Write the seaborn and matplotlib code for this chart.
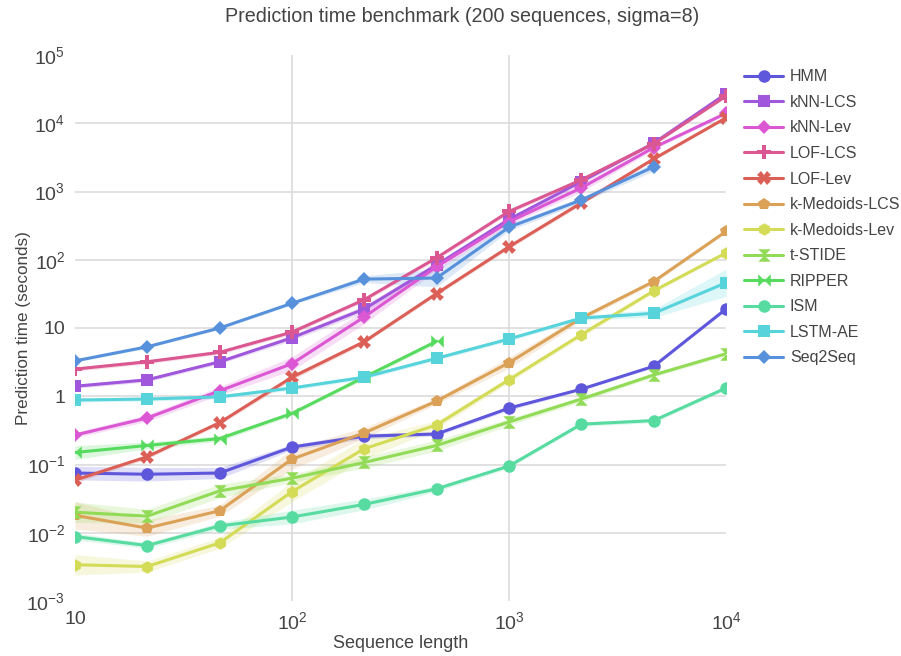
import matplotlib
matplotlib.use("Agg")
import matplotlib.pyplot as plt
import numpy as np
import pandas as pd
import seaborn as sns

# ------------------------------------------------------------------ #
# Data                                 #
# ------------------------------------------------------------------ #
SEQ_LEN = [10, 21.5, 46.4, 100, 215, 464, 1000, 2154, 4642, 10000]
nan = np.nan

HMM         = [0.075, 0.072, 0.075, 0.18, 0.26, 0.28, 0.67, 1.27, 2.75, 19]
KNN_LCS     = [1.4, 1.74, 3.2, 7.2, 19, 84, 390, 1400, 5100, 27000]
KNN_LEV     = [0.27, 0.48, 1.2, 3.0, 14.5, 79, 360, 1130, 4400, 14000]
LOF_LCS     = [2.5, 3.2, 4.4, 8.7, 26, 107, 510, 1480, 5000, 25000]
LOF_LEV     = [0.059, 0.13, 0.41, 1.9, 6.3, 32, 155, 680, 3000, 12000]
KMED_LCS    = [0.018, 0.0117, 0.021, 0.12, 0.29, 0.85, 3.1, 14, 48, 260]
KMED_LEV    = [0.0034, 0.0032, 0.0071, 0.040, 0.17, 0.38, 1.75, 8.0, 35, 126]
T_STIDE     = [0.020, 0.0175, 0.041, 0.063, 0.107, 0.19, 0.42, 0.91, 2.05, 4.2]
RIPPER      = [0.15, 0.19, 0.24, 0.56, 1.9, 6.4, nan, nan, nan, nan]
ISM         = [0.0088, 0.0065, 0.0126, 0.017, 0.026, 0.044, 0.095, 0.39, 0.44, 1.32]
LSTM_AE     = [0.88, 0.91, 0.98, 1.32, 1.9, 3.6, 6.9, 14, 16.4, 46]
SEQ2SEQ     = [3.3, 5.3, 10, 23, 52, 54, 300, 750, 2300, nan]

# band half-widths in decades (log10 units)
HMM_BAND      = [0.10, 0.10, 0.08, 0.04, 0.04, 0.03, 0.03, 0.02, 0.02, 0.02]
KNN_LCS_BAND  = [0.03, 0.03, 0.03, 0.04, 0.05, 0.04, 0.03, 0.03, 0.02, 0.02]
KNN_LEV_BAND  = [0.04, 0.05, 0.06, 0.10, 0.10, 0.05, 0.04, 0.06, 0.03, 0.02]
LOF_LCS_BAND  = [0.03, 0.03, 0.03, 0.03, 0.03, 0.03, 0.03, 0.03, 0.02, 0.02]
LOF_LEV_BAND  = [0.04, 0.03, 0.03, 0.04, 0.03, 0.03, 0.03, 0.03, 0.02, 0.02]
KMED_LCS_BAND = [0.20, 0.12, 0.08, 0.15, 0.08, 0.04, 0.08, 0.04, 0.03, 0.02]
KMED_LEV_BAND = [0.15, 0.08, 0.08, 0.15, 0.15, 0.06, 0.04, 0.04, 0.03, 0.02]
T_STIDE_BAND  = [0.15, 0.10, 0.10, 0.06, 0.08, 0.08, 0.05, 0.04, 0.03, 0.03]
RIPPER_BAND   = [0.10, 0.05, 0.04, 0.03, 0.03, 0.03, nan, nan, nan, nan]
ISM_BAND      = [0.05, 0.04, 0.05, 0.10, 0.08, 0.04, 0.03, 0.03, 0.03, 0.03]
LSTM_AE_BAND  = [0.03, 0.03, 0.03, 0.03, 0.03, 0.03, 0.03, 0.03, 0.06, 0.20]
SEQ2SEQ_BAND  = [0.02, 0.02, 0.02, 0.02, 0.05, 0.13, 0.05, 0.04, 0.06, nan]

LABELS = ["HMM", "kNN-LCS", "kNN-Lev", "LOF-LCS", "LOF-Lev", "k-Medoids-LCS",
          "k-Medoids-Lev", "t-STIDE", "RIPPER", "ISM", "LSTM-AE", "Seq2Seq"]

# ------------------------------------------------------------------ #
# Style                                                                #
# ------------------------------------------------------------------ #
sns.set_theme(style="white")
plt.rcParams["font.family"] = ["Liberation Sans", "DejaVu Sans"]
plt.rcParams["mathtext.fontset"] = "custom"
plt.rcParams["mathtext.rm"] = "Liberation Sans"
plt.rcParams["mathtext.it"] = "Liberation Sans:italic"

hls = sns.color_palette("hls", 12)
# hue order in the chart starts from blue-violet for HMM
PALETTE = [hls[(8 + i) % 12] for i in range(12)]

HOURGLASS = [(-1, 1), (1, 1), (-1, -1), (1, -1), (-1, 1)]
BOWTIE = [(-1, 1), (-1, -1), (1, 1), (1, -1), (-1, 1)]
MARKERS = ["o", "s", "D", "P", "X", "p", "h", HOURGLASS, BOWTIE, "o", "s", "D"]
MSIZES = [9, 9, 7.5, 9.5, 9.5, 9, 9, 9, 9, 9, 9, 7.5]

SERIES = [HMM, KNN_LCS, KNN_LEV, LOF_LCS, LOF_LEV, KMED_LCS,
          KMED_LEV, T_STIDE, RIPPER, ISM, LSTM_AE, SEQ2SEQ]
BANDS = [HMM_BAND, KNN_LCS_BAND, KNN_LEV_BAND, LOF_LCS_BAND, LOF_LEV_BAND,
         KMED_LCS_BAND, KMED_LEV_BAND, T_STIDE_BAND, RIPPER_BAND, ISM_BAND,
         LSTM_AE_BAND, SEQ2SEQ_BAND]

fig = plt.figure(figsize=(9.01, 6.56), dpi=100)
ax = fig.add_axes([75 / 901, 1 - 601 / 656, (726 - 75) / 901, (601 - 55) / 656])

ax.set_xscale("log")
ax.set_yscale("log")

# interior grid lines only
for v in [1e-2, 1e-1, 1, 10, 1e2, 1e3, 1e4]:
    ax.axhline(v, color="#dcdcdc", lw=1.2, zorder=0)
for v in [1e2, 1e3]:
    ax.axvline(v, color="#dcdcdc", lw=1.2, zorder=0)

x = np.array(SEQ_LEN)
for label, vals, band, color, marker, ms in zip(LABELS, SERIES, BANDS, PALETTE, MARKERS, MSIZES):
    y = np.array(vals, dtype=float)
    b = np.array(band, dtype=float)
    ok = ~np.isnan(y)
    ax.fill_between(x[ok], y[ok] / 10 ** b[ok], y[ok] * 10 ** b[ok],
                    color=color, alpha=0.2, lw=0, zorder=1)
    df = pd.DataFrame({"x": x[ok], "y": y[ok]})
    sns.lineplot(data=df, x="x", y="y", ax=ax, color=color, lw=2.2,
                 marker=marker, markersize=ms, markeredgewidth=0,
                 markeredgecolor=color, label=label, estimator=None,
                 errorbar=None, zorder=2)

ax.set_xlim(10, 1e4)
ax.set_ylim(1e-3, 1e5)

xt = [10, 1e2, 1e3, 1e4]
ax.set_xticks(xt)
ax.set_xticklabels(["10", r"$\mathregular{10^{2}}$", r"$\mathregular{10^{3}}$",
                    r"$\mathregular{10^{4}}$"])
yt = [1e-3, 1e-2, 1e-1, 1, 10, 1e2, 1e3, 1e4, 1e5]
ax.set_yticks(yt)
ax.set_yticklabels([r"$\mathregular{10^{-3}}$", r"$\mathregular{10^{-2}}$",
                    r"$\mathregular{10^{-1}}$", "1", "10",
                    r"$\mathregular{10^{2}}$", r"$\mathregular{10^{3}}$",
                    r"$\mathregular{10^{4}}$", r"$\mathregular{10^{5}}$"])
ax.minorticks_off()
ax.tick_params(axis="both", labelsize=14, colors="#444444", length=5,
               width=1, color="#cccccc", pad=2)
for t in (ax.xaxis.get_major_ticks()[0], ax.xaxis.get_major_ticks()[-1],
          ax.yaxis.get_major_ticks()[0], ax.yaxis.get_major_ticks()[-1]):
    t.tick1line.set_visible(False)

for s in ax.spines.values():
    s.set_visible(False)

ax.set_xlabel("Sequence length", fontsize=13, color="#444444", labelpad=2)
ax.set_ylabel("Prediction time (seconds)", fontsize=12.3, color="#444444", labelpad=-3)
fig.text(462 / 901, 1 - 17 / 656, "Prediction time benchmark (200 sequences, sigma=8)",
         ha="center", va="center", fontsize=14.2, color="#444444")

ax.legend(loc="upper left", bbox_to_anchor=(738 / 901, 1 - 63 / 656),
          bbox_transform=fig.transFigure, frameon=False, fontsize=11.5,
          labelspacing=0.66, handlelength=2.4, handletextpad=0.45,
          borderaxespad=0, labelcolor="#444444")

fig.savefig("out.png", dpi=100)
